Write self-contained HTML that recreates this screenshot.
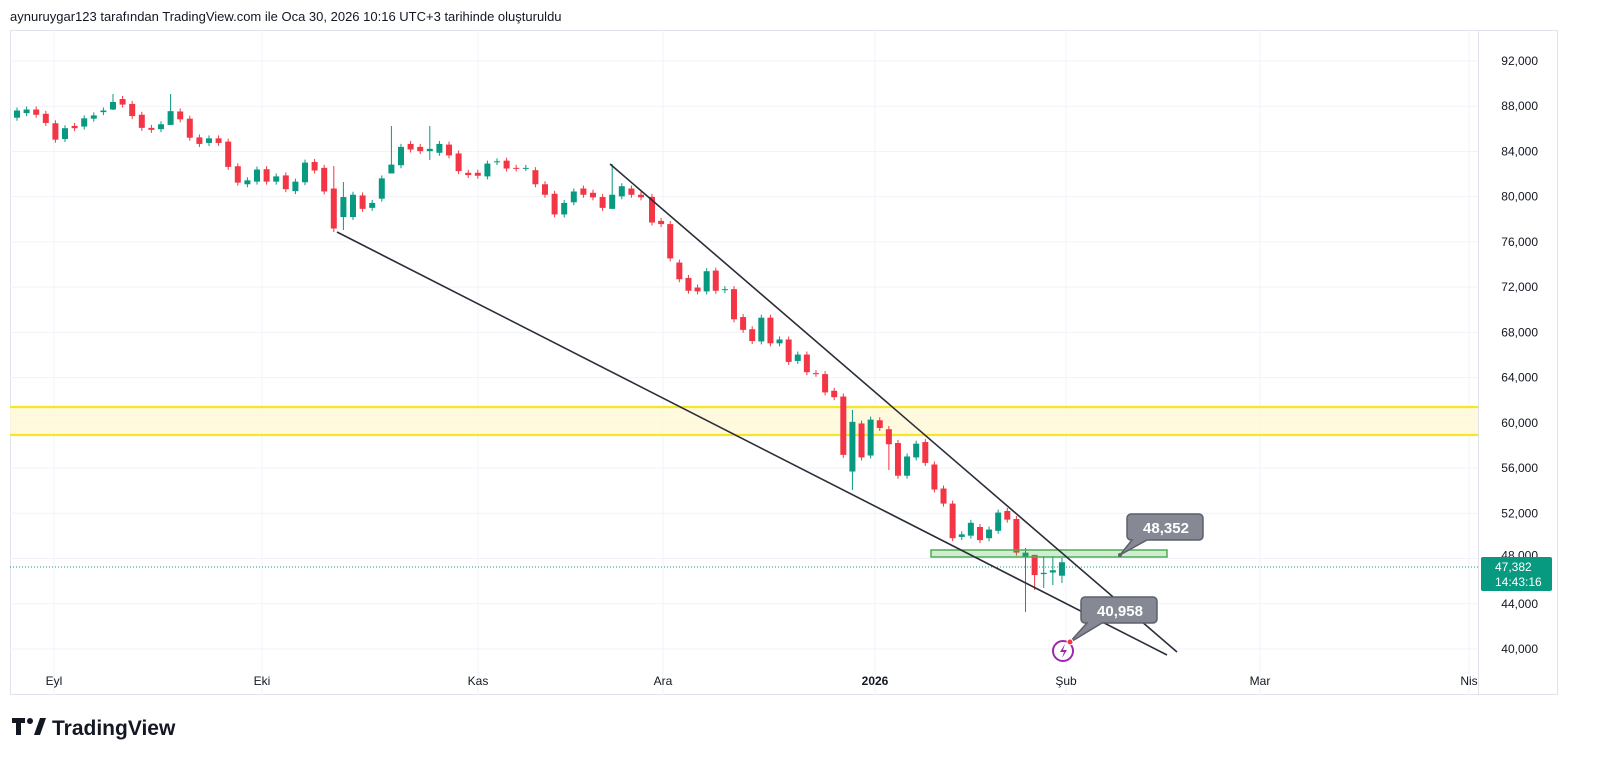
<!DOCTYPE html>
<html><head><meta charset="utf-8"><style>
html,body{margin:0;padding:0;background:#fff;width:1600px;height:776px;overflow:hidden;font-family:"Liberation Sans",sans-serif}
</style></head><body>
<svg id="s" width="1600" height="776" xmlns="http://www.w3.org/2000/svg" font-family="Liberation Sans, sans-serif">
<text x="10" y="21" font-size="13" fill="#131722">aynuruygar123 tarafından TradingView.com ile Oca 30, 2026 10:16 UTC+3 tarihinde oluşturuldu</text>
<rect x="10.5" y="30.5" width="1547" height="664" fill="none" stroke="#e0e3eb"/>
<line x1="1478.5" y1="30" x2="1478.5" y2="695" stroke="#e0e3eb"/>
<g id="grid"></g>
<rect x="10" y="407" width="1468" height="28" fill="#fff9d6" opacity="0.8"/>
<line x1="10" y1="407" x2="1478" y2="407" stroke="#f7e628" stroke-width="2.2"/>
<line x1="10" y1="435" x2="1478" y2="435" stroke="#f7e628" stroke-width="2.2"/>
<line x1="10" y1="567" x2="1478" y2="567" stroke="#089981" stroke-width="1" stroke-dasharray="1,2"/>
<g id="c"></g>
<rect x="931" y="550" width="236" height="7" fill="rgba(76,175,80,0.25)" stroke="#4caf50" stroke-width="1.5"/>
<line x1="610" y1="164" x2="1177" y2="652" stroke="#2a2e39" stroke-width="1.6"/>
<line x1="337" y1="232" x2="1167" y2="655" stroke="#2a2e39" stroke-width="1.6"/>
<path d="M1131,514 h68 a4,4 0 0 1 4,4 v18 a4,4 0 0 1 -4,4 h-52 l-27,15 l12,-15 h-1 a4,4 0 0 1 -4,-4 v-18 a4,4 0 0 1 4,-4z" fill="#868993" stroke="#5d606b" stroke-width="1.5"/>
<circle cx="1120" cy="555" r="2" fill="#5d606b"/>
<text x="1166" y="533" font-size="15" font-weight="bold" fill="#fff" text-anchor="middle">48,352</text>
<path d="M1085,597 h68 a4,4 0 0 1 4,4 v18 a4,4 0 0 1 -4,4 h-51 l-33,20 l18,-20 h-2 a4,4 0 0 1 -4,-4 v-18 a4,4 0 0 1 4,-4z" fill="#868993" stroke="#5d606b" stroke-width="1.5"/>
<text x="1120" y="616" font-size="15" font-weight="bold" fill="#fff" text-anchor="middle">40,958</text>
<circle cx="1063" cy="651" r="10" fill="#fff" stroke="#9c27b0" stroke-width="2"/>
<path d="M1065,644 l-5,8 h4 l-2,6 l5,-8 h-4z" fill="#9c27b0"/>
<circle cx="1070" cy="642" r="3" fill="#f23645" stroke="#fff"/>
<g id="ax" font-size="12" fill="#131722"></g>
<rect x="1481" y="557" width="71" height="34" rx="2" fill="#089981"/>
<text x="1495" y="571" font-size="12" fill="#fff">47,382</text>
<text x="1495" y="586" font-size="12" fill="#fff">14:43:16</text>
<g transform="translate(12,716)">
<path d="M0,2 h13 v5 h-4 v12 h-5 v-12 h-4z" fill="#131722"/>
<circle cx="18" cy="5" r="3" fill="#131722"/>
<path d="M22,19 l6,-17 h6 l-6,17z" fill="#131722"/>
<text x="40" y="19" font-size="21" font-weight="bold" fill="#131722">TradingView</text>
</g>
</svg>
<script>
var NS="http://www.w3.org/2000/svg";
function el(p,t,a,txt){var e=document.createElementNS(NS,t);for(var k in a)e.setAttribute(k,a[k]);if(txt)e.textContent=txt;p.appendChild(e);return e;}
var grid=document.getElementById('grid'),ax=document.getElementById('ax'),cg=document.getElementById('c');
function py(p){return 649-(p-40000)*0.011308;}
for(var p=40000;p<=92000;p+=4000){var y=py(p);el(grid,'line',{x1:10,x2:1478,y1:y,y2:y,stroke:'#f0f3fa'});
 if(p!=48000)el(ax,'text',{x:1538,y:y+4,'text-anchor':'end'},(p/1000)+',000');}
el(ax,'text',{x:1538,y:py(48000)+1,'text-anchor':'end'},'48,000');
var mons=[[54,'Eyl'],[262,'Eki'],[478,'Kas'],[663,'Ara'],[875,'2026'],[1066,'Şub'],[1260,'Mar'],[1469,'Nis']];
mons.forEach(function(m){el(grid,'line',{x1:m[0],x2:m[0],y1:30,y2:695,stroke:'#f0f3fa'});
 var t=el(ax,'text',{x:m[0],y:685,'text-anchor':'middle'},m[1]);if(m[1]=='2026')t.setAttribute('font-weight','bold');});
var z1=[[93,115,1],[90,101,1],[90,106,0],[103,131,0],[132,182,0],[147,180,1],[140,147,0],[117,142,1],[108,118,1],[93,98,1],[67,90,1],[58,75,0],[73,110,0],[106,146,0],[146,152,0],[135,150,1],[95,137,1],[96,120,0],[118,176,0],[175,195,0],[178,192,1],[178,192,0],[188,265,0],[263,313,0],[306,318,1],[273,310,1],[272,310,0],[294,310,1],[291,333,0],[310,339,1],[252,312,1],[250,276,0],[268,340,0],[331,453,0],[357,418,1],[350,418,1],[352,393,0],[375,390,1],[300,362,1],[258,285,1],[204,260,1],[195,212,0],[204,217,0],[210,217,1],[195,222,1],[197,230,0],[224,278,0],[283,290,0],[283,292,0],[255,294,1],[248,250,1],[246,270,0],[268,270,0],[268,268,1],[275,318,0],[318,350,0],[347,410,0],[375,410,1],[340,373,1],[331,350,0],[344,358,0],[357,390,0],[350,393,1],[324,355,1],[331,350,0],[350,358,0]];
var z2=[[115,195,0],[190,200,0],[200,307,0],[320,372,0],[368,408,0],[398,410,0],[347,410,1],[345,408,0],[403,406,1],[403,497,0],[490,530,0],[528,565,0],[492,566,1],[492,572,0],[560,572,1],[560,630,0],[607,627,1],[607,662,0],[665,667,0],[668,725,0],[720,740,0],[738,920,0],[817,972,1],[822,928,0],[810,922,1],[812,836,0],[840,887,0],[883,985,0],[925,985,1],[885,928,1],[880,945,0],[950,1028,0],[1025,1072,0],[1072,1180,0],[1168,1176,1],[1132,1172,1],[1145,1186,0],[1153,1180,1],[1100,1157,1],[1095,1122,0],[1120,1225,0],[1225,1240,1],[1232,1295,0],[1288,1292,1],[1280,1287,1],[1255,1297,1]];
var C=[];
z1.forEach(function(c,i){C.push({x:17+i*9.6,t:80+c[0]/3.05,b:80+c[1]/3.05,g:c[2]});});
z2.forEach(function(c,i){C.push({x:652+i*9.11,t:160+c[0]/3.12,b:160+c[1]/3.12,g:c[2]});});
var wx=[[336,166,232],[610,164,200],[848,410,490],[893,426,470],[1027,548,612],[1036,556,590],[1045,556,588],[1054,556,585],[1063,558,583],[166,94,118],[343,182,230],[111,94,110],[391,126,160],[432,126,160]];
C.forEach(function(c,i){var col=c.g?'#089981':'#f23645';var w=[c.t-3,c.b+3];
 wx.forEach(function(q){if(Math.abs(q[0]-c.x)<4.6){w=[Math.min(q[1],c.t),Math.max(q[2],c.b)];}});
 el(cg,'line',{x1:c.x,x2:c.x,y1:w[0],y2:w[1],stroke:col,'stroke-width':1});
 el(cg,'rect',{x:c.x-3,y:c.t,width:6,height:Math.max(1,c.b-c.t),fill:col});});
</script>
</body></html>
